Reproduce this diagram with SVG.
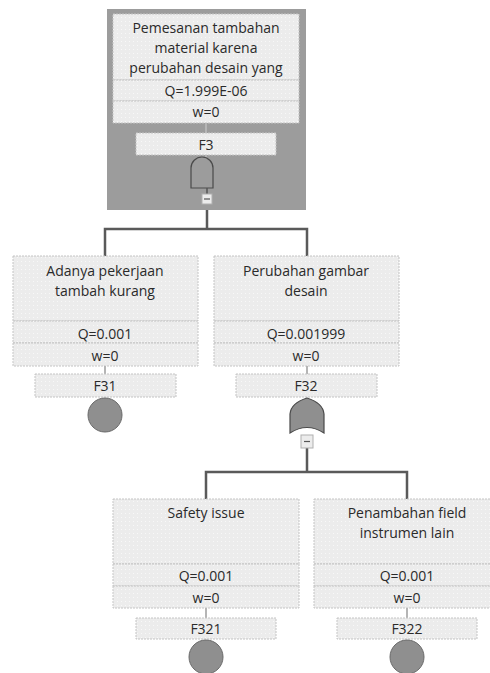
<svg xmlns="http://www.w3.org/2000/svg" width="490" height="673" viewBox="0 0 490 673">
<defs>
<pattern id="dots" width="4" height="4" patternUnits="userSpaceOnUse">
<rect width="4" height="4" fill="#ececec"/>
<rect x="1" y="1" width="1" height="1" fill="#f8f8f8"/>
</pattern>
<style>
.box{fill:url(#dots);stroke:#c4c4c4;stroke-width:1;stroke-dasharray:2 1}
.t{font-family:"Open Sans","Noto Sans","DejaVu Sans",sans-serif;font-size:14px;fill:#2a2a2a;text-anchor:middle}
.link{fill:none;stroke:#5a5a5a;stroke-width:2.5}
.stub{stroke:#b5b5b5;stroke-width:2}
.evt{fill:#8f8f8f;stroke:#6a6a6a;stroke-width:1}
.gate{stroke:#4a4a4a;stroke-width:1.2}
.mini{fill:#ececec;stroke:#b0b0b0;stroke-width:1}
.minus{stroke:#555;stroke-width:1.2}
</style>
</defs>
<rect width="490" height="673" fill="#ffffff"/>
<g id="connectors">
<path class="link" d="M207,204 V229 M105,256 V229 H307 V256"/>
<path class="link" d="M307,448 V472 M206,499 V472 H407 V499"/>
</g>
<g id="F3">
<rect x="107" y="9" width="199" height="201" fill="#9c9c9c"/>
<rect class="box" x="113" y="14" width="186" height="66"/>
<rect class="box" x="113" y="80" width="186" height="21"/>
<rect class="box" x="113" y="101" width="186" height="22"/>
<line class="stub" x1="206" y1="123" x2="206" y2="133"/>
<rect class="box" x="136" y="133" width="140" height="22"/>
<text class="t" x="206" y="33">Pemesanan tambahan</text>
<text class="t" x="206" y="53">material karena</text>
<text class="t" x="206" y="73">perubahan desain yang</text>
<text class="t" x="206" y="96">Q=1.999E-06</text>
<text class="t" x="206" y="117">w=0</text>
<text class="t" x="206" y="150">F3</text>
<line x1="206" y1="155" x2="206" y2="158" class="stub"/>
<path class="gate" fill="#9c9c9c" d="M191,188 V168 A11,11 0 0 1 213,168 V188 Z"/>
<line x1="207" y1="188" x2="207" y2="194" stroke="#555" stroke-width="1.5"/>
<rect class="mini" x="202" y="194" width="10" height="10"/>
<line class="minus" x1="204" y1="199" x2="210" y2="199"/>
</g>
<g id="F31">
<rect class="box" x="13" y="256" width="185" height="65"/>
<rect class="box" x="13" y="321" width="185" height="22"/>
<rect class="box" x="13" y="343" width="185" height="23"/>
<line class="stub" x1="105" y1="366" x2="105" y2="374"/>
<rect class="box" x="35" y="374" width="141" height="23"/>
<text class="t" x="105" y="276">Adanya pekerjaan</text>
<text class="t" x="105" y="296">tambah kurang</text>
<text class="t" x="105" y="339">Q=0.001</text>
<text class="t" x="105" y="361">w=0</text>
<text class="t" x="105" y="391">F31</text>
<circle class="evt" cx="105" cy="415" r="17"/>
</g>
<g id="F32">
<rect class="box" x="214" y="256" width="185" height="65"/>
<rect class="box" x="214" y="321" width="185" height="22"/>
<rect class="box" x="214" y="343" width="185" height="23"/>
<line class="stub" x1="307" y1="366" x2="307" y2="374"/>
<rect class="box" x="236" y="374" width="141" height="23"/>
<text class="t" x="306" y="276">Perubahan gambar</text>
<text class="t" x="306" y="296">desain</text>
<text class="t" x="306" y="339">Q=0.001999</text>
<text class="t" x="306" y="361">w=0</text>
<text class="t" x="306" y="391">F32</text>
<path class="gate" fill="#8f8f8f" d="M290,433 V414 Q291,403 307,398 Q323,403 324,414 V433 Q307,422 290,433 Z"/>
<rect class="mini" x="301" y="435" width="12" height="13"/>
<line class="minus" x1="304" y1="441.5" x2="310" y2="441.5"/>
</g>
<g id="F321">
<rect class="box" x="113" y="499" width="186" height="65"/>
<rect class="box" x="113" y="564" width="186" height="22"/>
<rect class="box" x="113" y="586" width="186" height="22"/>
<line class="stub" x1="206" y1="608" x2="206" y2="618"/>
<rect class="box" x="136" y="618" width="140" height="21"/>
<text class="t" x="206" y="518">Safety issue</text>
<text class="t" x="206" y="581">Q=0.001</text>
<text class="t" x="206" y="603">w=0</text>
<text class="t" x="206" y="634">F321</text>
<circle class="evt" cx="206" cy="657" r="17"/>
</g>
<g id="F322">
<rect class="box" x="314" y="499" width="186" height="65"/>
<rect class="box" x="314" y="564" width="186" height="22"/>
<rect class="box" x="314" y="586" width="186" height="22"/>
<line class="stub" x1="407" y1="608" x2="407" y2="618"/>
<rect class="box" x="337" y="618" width="140" height="21"/>
<text class="t" x="407" y="518">Penambahan field</text>
<text class="t" x="407" y="538">instrumen lain</text>
<text class="t" x="407" y="581">Q=0.001</text>
<text class="t" x="407" y="603">w=0</text>
<text class="t" x="407" y="634">F322</text>
<circle class="evt" cx="407" cy="657" r="17"/>
</g>
</svg>
